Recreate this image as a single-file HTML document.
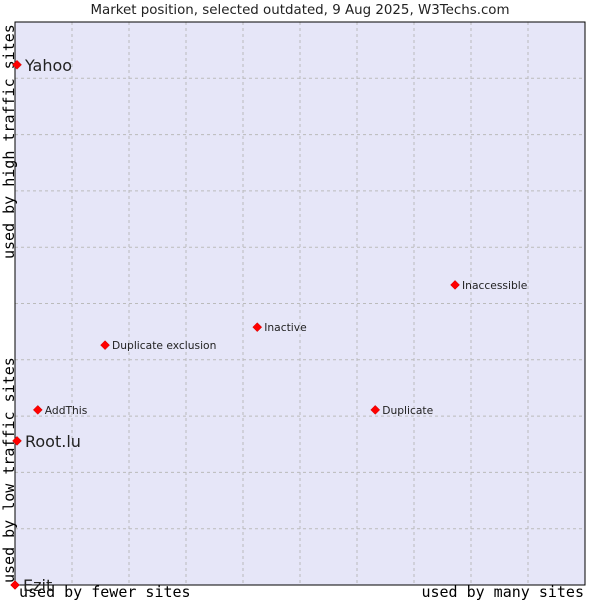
<!DOCTYPE html>
<html><head><meta charset="utf-8"><style>body{margin:0;background:#fff}svg{display:block}</style></head>
<body>
<svg id="c" width="600" height="600" xmlns="http://www.w3.org/2000/svg">
<rect x="0" y="0" width="600" height="600" fill="#fff"/>
<text x="300" y="14" text-anchor="middle" font-family="DejaVu Sans, Liberation Sans, sans-serif" font-size="13.4" fill="#222">Market position, selected outdated, 9 Aug 2025, W3Techs.com</text>
<rect x="15" y="22" width="570" height="563" fill="#e6e6f8"/>
<g id="grid"></g>
<rect x="15" y="22" width="570" height="563" fill="none" stroke="#000" stroke-width="1"/>
<text x="19" y="597" font-family="DejaVu Sans Mono, Liberation Mono, monospace" font-size="15" fill="#000">used by fewer sites</text>
<text x="584" y="597" text-anchor="end" font-family="DejaVu Sans Mono, Liberation Mono, monospace" font-size="15" fill="#000">used by many sites</text>
<text transform="translate(14,259) rotate(-90)" font-family="DejaVu Sans Mono, Liberation Mono, monospace" font-size="15" fill="#000">used by high traffic sites</text>
<text transform="translate(14,583) rotate(-90)" font-family="DejaVu Sans Mono, Liberation Mono, monospace" font-size="15" fill="#000">used by low traffic sites</text>
<g id="pts"></g>
</svg>
<script>
const labels = ["Yahoo","Root.lu","Ezit","AddThis","Duplicate exclusion","Inactive","Inaccessible","Duplicate"];
const xValues = [0.35,0.35,0,4.0,15.8,42.5,77.2,63.2];
const yValues = [92.4,25.6,0,31.1,42.6,45.8,53.3,31.1];
const bigLabel = [true,true,true,false,false,false,false,false];
const NS="http://www.w3.org/2000/svg";
function xs(v){return 15+v*5.7;}
function ys(v){return 585-v*5.63;}
const grid=document.getElementById('grid');
for(let i=1;i<10;i++){
  const l=document.createElementNS(NS,'line');
  l.setAttribute('x1',15+i*57);l.setAttribute('x2',15+i*57);l.setAttribute('y1',22);l.setAttribute('y2',585);
  l.setAttribute('stroke','#bbb');l.setAttribute('stroke-dasharray','3,3');
  
  
  grid.appendChild(l);
  const h=document.createElementNS(NS,'line');
  const y=585-i*56.3;
  h.setAttribute('x1',15);h.setAttribute('x2',585);h.setAttribute('y1',y);h.setAttribute('y2',y);
  h.setAttribute('stroke','#bbb');h.setAttribute('stroke-dasharray','3,3');
  
  
  grid.appendChild(h);
}
const pts=document.getElementById('pts');
labels.forEach((lab,i)=>{
  const x=xs(xValues[i]),y=ys(yValues[i]);
  const d=document.createElementNS(NS,'path');
  d.setAttribute('d',`M${x-4.5},${y} L${x},${y-4.5} L${x+4.5},${y} L${x},${y+4.5} Z`);
  d.setAttribute('fill','#f00');d.setAttribute('stroke','#c00');d.setAttribute('stroke-width','0.5');
  
  
  pts.appendChild(d);
  const t=document.createElementNS(NS,'text');
  t.setAttribute('x',x+(bigLabel[i]?8:7));
  t.setAttribute('y',y+(bigLabel[i]?6:4));
  t.setAttribute('font-family','DejaVu Sans, Liberation Sans, sans-serif');
  t.setAttribute('font-size',bigLabel[i]?'16':'10.7');
  t.setAttribute('fill','#222');
  t.textContent=lab;
  
  
  pts.appendChild(t);
});
</script>
</body></html>
